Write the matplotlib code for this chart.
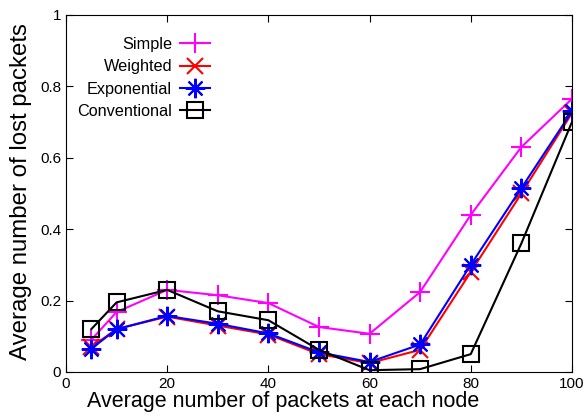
import matplotlib
matplotlib.use('Agg')
import matplotlib.pyplot as plt

plt.rcParams['font.family'] = ['Liberation Sans', 'DejaVu Sans']

# dados
x = [5, 10, 20, 30, 40, 50, 60, 70, 80, 90, 100]
simple = [0.09, 0.168, 0.23, 0.215, 0.193, 0.126, 0.107, 0.224, 0.44, 0.63, 0.765]
weighted = [0.07, 0.12, 0.155, 0.13, 0.105, 0.05, 0.025, 0.062, 0.28, 0.50, 0.725]
exponential = [0.065, 0.12, 0.157, 0.135, 0.108, 0.055, 0.028, 0.077, 0.30, 0.515, 0.73]
conventional = [0.12, 0.195, 0.23, 0.17, 0.145, 0.062, 0.005, 0.008, 0.05, 0.36, 0.70]

xticks = [0, 20, 40, 60, 80, 100]
yticks = [0, 0.2, 0.4, 0.6, 0.8, 1]

fig = plt.figure(figsize=(5.86, 4.16), dpi=100)
ax = fig.add_axes([0.1126, 0.1058, 0.8634, 0.8582])

ax.plot(x, simple, color='#ff00ff', marker='+', ms=14, mew=1.5, lw=1.5, label='Simple')
ax.plot(x, weighted, color='#ff0000', marker='x', ms=11, mew=1.5, lw=1.5, label='Weighted')
ax.plot(x, exponential, color='#0000ff', marker=(8, 2, 0), ms=14, mew=1.5, lw=1.5, label='Exponential')
ax.plot(x, conventional, color='black', marker='s', ms=12, mew=1.5, mfc='none', lw=1.5, label='Conventional')

ax.set_xlim(0, 100)
ax.set_ylim(0, 1)
ax.set_xticks(xticks)
ax.set_yticks(yticks)
ax.set_yticklabels(['0', '0.2', '0.4', '0.6', '0.8', '1'])
ax.tick_params(direction='in', top=True, right=True, labelsize=11, length=5)

# rotulos dos eixos (posicao como no original)
ax.set_xlabel('Average number of packets at each node', fontsize=15.5)
ax.xaxis.set_label_coords(0.429, -0.054)
ax.set_ylabel('Average number of lost packets', fontsize=17.3)
ax.yaxis.set_label_coords(-0.067, 0.504)

ax.legend(loc='upper left', bbox_to_anchor=(0.0, 0.97), frameon=False, markerfirst=False,
          fontsize=11.7, handlelength=1.85, handletextpad=0.5, labelspacing=0.45,
          borderaxespad=0.3)

fig.savefig('out.png', dpi=100)
